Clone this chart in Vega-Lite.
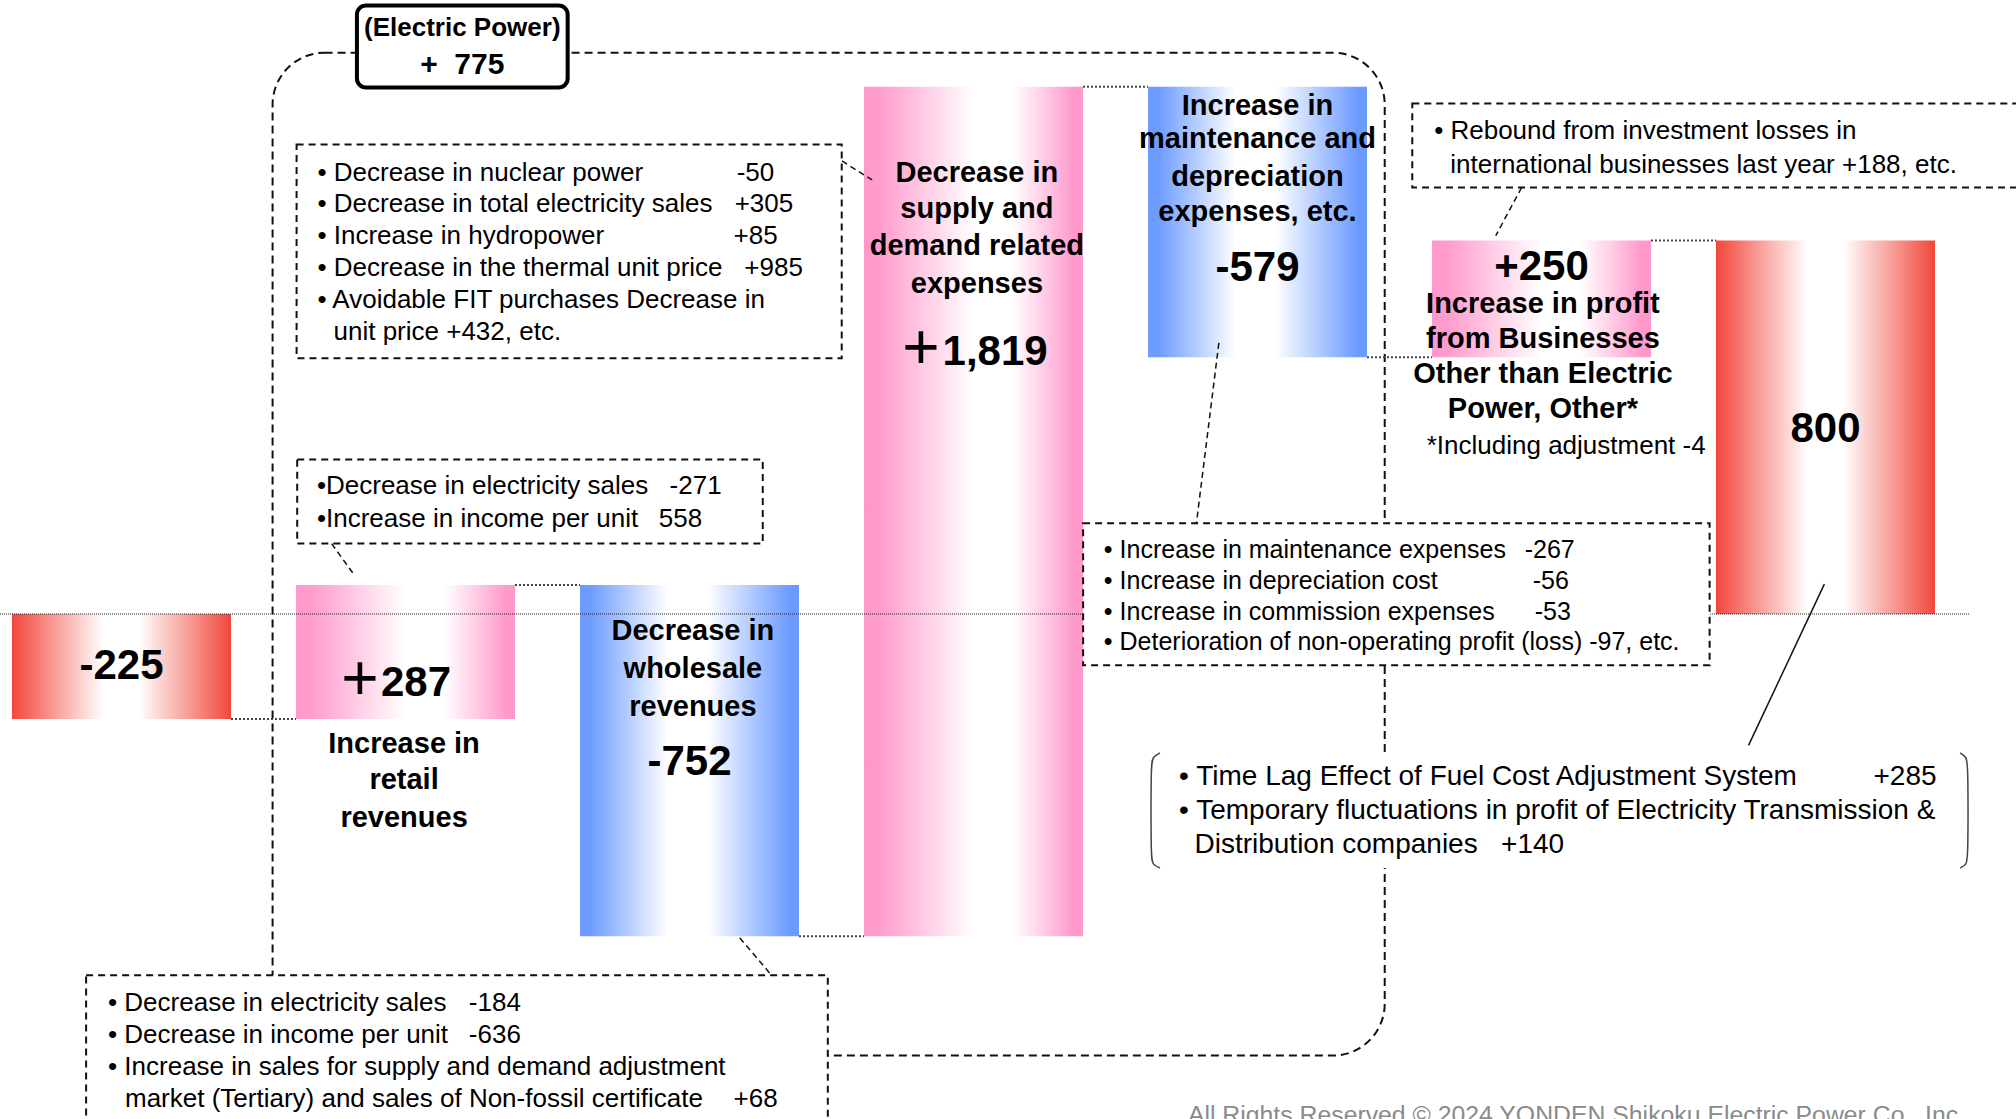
{
  "$schema": "https://vega.github.io/schema/vega-lite/v6.json",
  "width": 2016,
  "height": 1119,
  "autosize": {"type": "none"},
  "padding": 0,
  "background": "white",
  "config": {"view": {"stroke": null}, "font": "Liberation Sans", "scale": {"continuousPadding": 0}},
  "datasets": {
    "bars": [
      {"i": 0, "name": "Previous year", "start": 0, "end": -225, "kind": "red"},
      {"i": 1, "name": "Retail revenues", "start": -225, "end": 62, "kind": "pink"},
      {"i": 2, "name": "Wholesale revenues", "start": 62, "end": -690, "kind": "blue"},
      {"i": 3, "name": "Supply and demand related expenses", "start": -690, "end": 1129, "kind": "pink"},
      {"i": 4, "name": "Maintenance and depreciation", "start": 1129, "end": 550, "kind": "blue"},
      {"i": 5, "name": "Other businesses", "start": 550, "end": 800, "kind": "pink"},
      {"i": 6, "name": "Current year", "start": 0, "end": 800, "kind": "red"}
    ],
    "steps": [
      {"x": 0, "x2": 1, "level": -225},
      {"x": 1, "x2": 2, "level": 62},
      {"x": 2, "x2": 3, "level": -690},
      {"x": 3, "x2": 4, "level": 1129},
      {"x": 4, "x2": 5, "level": 550},
      {"x": 5, "x2": 6, "level": 800}
    ],
    "zero": [{"x": -0.4278, "x2": 6.509, "y": 0}],
    "frame": [{"x": 0.532, "x2": 4.448, "y": 1202.0, "y2": -945.6}],
    "boxes": [
      {"box": "fuel", "x": 0.6165, "x2": 2.536, "y": 1005.2, "y2": 547.8},
      {"box": "retail", "x": 0.6187, "x2": 2.258, "y": 330.7, "y2": 150.8},
      {"box": "wholesale", "x": -0.1246, "x2": 2.487, "y": -773.8, "y2": -1250},
      {"box": "maintenance", "x": 3.386, "x2": 5.592, "y": 194.5, "y2": -109.6},
      {"box": "rebound", "x": 4.545, "x2": 7.3, "y": 1093.0, "y2": 913.3}
    ],
    "bracketbg": [{"x": 3.625, "x2": 6.502, "y": -297.6, "y2": -543.8}],
    "epbox": [{"x": 0.829, "x2": 1.571, "y": 1303.2, "y2": 1127.4}],
    "dashlinks": [
      {"id": "c1", "o": 0, "x": 2.537, "y": 970.1}, {"id": "c1", "o": 1, "x": 2.643, "y": 929.4},
      {"id": "c2", "o": 0, "x": 0.740, "y": 150.8}, {"id": "c2", "o": 1, "x": 0.822, "y": 81.4},
      {"id": "c3", "o": 0, "x": 2.177, "y": -693.5}, {"id": "c3", "o": 1, "x": 2.289, "y": -773.8},
      {"id": "c4", "o": 0, "x": 3.864, "y": 580.6}, {"id": "c4", "o": 1, "x": 3.785, "y": 194.5},
      {"id": "c5", "o": 0, "x": 4.930, "y": 913.3}, {"id": "c5", "o": 1, "x": 4.839, "y": 810.1}
    ],
    "solidlinks": [
      {"id": "s1", "o": 0, "x": 5.729, "y": -281.3}, {"id": "s1", "o": 1, "x": 5.996, "y": 63.9}
    ],
    "brackets": [
      {"id": "L", "o": 0, "x": 3.6567, "y": -297.6}, {"id": "L", "o": 1, "x": 3.630, "y": -306.0},
      {"id": "L", "o": 2, "x": 3.625, "y": -325.4}, {"id": "L", "o": 3, "x": 3.625, "y": -518.2},
      {"id": "L", "o": 4, "x": 3.630, "y": -537.0}, {"id": "L", "o": 5, "x": 3.6567, "y": -543.8},
      {"id": "R", "o": 0, "x": 6.474, "y": -297.6}, {"id": "R", "o": 1, "x": 6.497, "y": -306.0},
      {"id": "R", "o": 2, "x": 6.502, "y": -325.4}, {"id": "R", "o": 3, "x": 6.502, "y": -518.2},
      {"id": "R", "o": 4, "x": 6.497, "y": -537.0}, {"id": "R", "o": 5, "x": 6.474, "y": -543.8}
    ],
    "notes26": [
      {"x": 0.690, "y": 945.4, "t": "• Decrease in nuclear power"}, {"x": 2.166, "y": 945.4, "t": "-50"},
      {"x": 0.690, "y": 877.3, "t": "• Decrease in total electricity sales"}, {"x": 2.159, "y": 877.3, "t": "+305"},
      {"x": 0.690, "y": 808.6, "t": "• Increase in hydropower"}, {"x": 2.155, "y": 808.6, "t": "+85"},
      {"x": 0.690, "y": 741.1, "t": "• Decrease in the thermal unit price"}, {"x": 2.193, "y": 741.1, "t": "+985"},
      {"x": 0.690, "y": 672.4, "t": "• Avoidable FIT purchases Decrease in"},
      {"x": 0.7465, "y": 603.7, "t": "unit price +432, etc."},
      {"x": 0.688, "y": 273.3, "t": "•Decrease in electricity sales"}, {"x": 1.930, "y": 273.3, "t": "-271"},
      {"x": 0.688, "y": 204.3, "t": "•Increase in income per unit"}, {"x": 1.892, "y": 204.3, "t": "558"},
      {"x": -0.0475, "y": -832.7, "t": "• Decrease in electricity sales"}, {"x": 1.223, "y": -832.7, "t": "-184"},
      {"x": -0.0475, "y": -901.4, "t": "• Decrease in income per unit"}, {"x": 1.223, "y": -901.4, "t": "-636"},
      {"x": -0.0475, "y": -970.1, "t": "• Increase in sales for supply and demand adjustment"},
      {"x": 0.0123, "y": -1039.1, "t": "market (Tertiary) and sales of Non-fossil certificate"}, {"x": 2.155, "y": -1039.1, "t": "+68"},
      {"x": 4.622, "y": 1033.4, "t": "• Rebound from investment losses in"},
      {"x": 4.679, "y": 961.5, "t": "international businesses last year +188, etc."}
    ],
    "notes25": [
      {"x": 3.459, "y": 136.0, "t": "• Increase in maintenance expenses"}, {"x": 4.941, "y": 136.0, "t": "-267"},
      {"x": 3.459, "y": 69.8, "t": "• Increase in depreciation cost"}, {"x": 4.969, "y": 69.8, "t": "-56"},
      {"x": 3.459, "y": 5.0, "t": "• Increase in commission expenses"}, {"x": 4.976, "y": 5.0, "t": "-53"},
      {"x": 3.459, "y": -59.9, "t": "• Deterioration of non-operating profit (loss) -97, etc."}
    ],
    "notes28": [
      {"x": 3.724, "y": -350.1, "t": "• Time Lag Effect of Fuel Cost Adjustment System"}, {"x": 6.169, "y": -350.1, "t": "+285"},
      {"x": 3.724, "y": -422.4, "t": "• Temporary fluctuations in profit of Electricity Transmission &"},
      {"x": 3.778, "y": -495.0, "t": "Distribution companies\u00a0\u00a0\u00a0+140"}
    ],
    "centernotes": [
      {"x": 5.087, "y": 360.4, "t": "*Including adjustment -4"}
    ],
    "catlabels": [
      {"x": 0.995, "y": -278.1, "t": "Increase in"}, {"x": 0.995, "y": -356.3, "t": "retail"}, {"x": 0.995, "y": -436.6, "t": "revenues"},
      {"x": 2.012, "y": -37.2, "t": "Decrease in"}, {"x": 2.012, "y": -117.5, "t": "wholesale"}, {"x": 2.012, "y": -199.3, "t": "revenues"},
      {"x": 3.012, "y": 945.4, "t": "Decrease in"}, {"x": 3.012, "y": 867.5, "t": "supply and"}, {"x": 3.012, "y": 787.2, "t": "demand related"}, {"x": 3.012, "y": 706.9, "t": "expenses"},
      {"x": 4.0, "y": 1087.6, "t": "Increase in"}, {"x": 4.0, "y": 1016.5, "t": "maintenance and"}, {"x": 4.0, "y": 936.2, "t": "depreciation"}, {"x": 4.0, "y": 861.3, "t": "expenses, etc."},
      {"x": 5.005, "y": 663.2, "t": "Increase in profit"}, {"x": 5.005, "y": 589.7, "t": "from Businesses"}, {"x": 5.005, "y": 513.3, "t": "Other than Electric"}, {"x": 5.005, "y": 439.2, "t": "Power, Other*"}
    ],
    "values": [
      {"x": 0.0, "y": -110.9, "t": "-225"},
      {"x": 1.037, "y": -147.5, "t": "287"},
      {"x": 2.0, "y": -316.4, "t": "-752"},
      {"x": 3.076, "y": 561.5, "t": "1,819"},
      {"x": 4.0, "y": 741.2, "t": "-579"},
      {"x": 5.0, "y": 743.7, "t": "+250"},
      {"x": 6.0, "y": 397.1, "t": "800"}
    ],
    "pluses": [
      {"x": 0.840, "y": -147.5, "t": "+"},
      {"x": 2.815, "y": 561.5, "t": "+"}
    ],
    "eptitle": [
      {"x": 1.2, "y": 1255.1, "t": "(Electric Power)"}
    ],
    "epvalue": [
      {"x": 1.2, "y": 1175.6, "t": "+\u00a0\u00a0775"}
    ],
    "footer": [
      {"x": 3.755, "y": -1089, "t": "All Rights Reserved © 2024 YONDEN Shikoku Electric Power Co., Inc."}
    ]
  },
  "layer": [
    {
      "data": {"name": "frame"},
      "mark": {"type": "rect", "fill": "white", "fillOpacity": 0, "stroke": "#111", "strokeWidth": 2, "strokeDash": [8, 5], "cornerRadius": 52},
      "encoding": {
        "x": {"field": "x", "type": "quantitative", "scale": {"domain": [-0.4278, 6.6708], "nice": false, "zero": false, "padding": 0}, "axis": null},
        "x2": {"field": "x2"},
        "y": {"field": "y", "type": "quantitative", "scale": {"domain": [-1081.4, 1314.8], "nice": false, "zero": false, "padding": 0}, "axis": null},
        "y2": {"field": "y2"}
      }
    },
    {
      "data": {"name": "steps"},
      "mark": {"type": "rule", "stroke": "#444", "strokeWidth": 2, "strokeDash": [2, 2], "xOffset": 109.5, "x2Offset": -109.5},
      "encoding": {
        "x": {"field": "x", "type": "quantitative", "scale": {"domain": [-0.4278, 6.6708], "nice": false, "zero": false, "padding": 0}, "axis": null},
        "x2": {"field": "x2"},
        "y": {"field": "level", "type": "quantitative", "scale": {"domain": [-1081.4, 1314.8], "nice": false, "zero": false, "padding": 0}, "axis": null}
      }
    },
    {
      "data": {"name": "bars"},
      "transform": [{"filter": "datum.kind === 'red'"}],
      "mark": {"type": "bar", "width": 219, "fill": {"gradient": "linear", "x1": 0, "x2": 1, "y1": 0, "y2": 0, "stops": [{"offset": 0, "color": "#f2473c"}, {"offset": 0.42, "color": "#ffffff"}, {"offset": 0.58, "color": "#ffffff"}, {"offset": 1, "color": "#f2473c"}]}},
      "encoding": {
        "x": {"field": "i", "type": "quantitative", "scale": {"domain": [-0.4278, 6.6708], "nice": false, "zero": false, "padding": 0}, "axis": null},
        "y": {"field": "start", "type": "quantitative", "scale": {"domain": [-1081.4, 1314.8], "nice": false, "zero": false, "padding": 0}, "axis": null},
        "y2": {"field": "end"}
      }
    },
    {
      "data": {"name": "bars"},
      "transform": [{"filter": "datum.kind === 'pink'"}],
      "mark": {"type": "bar", "width": 219, "fill": {"gradient": "linear", "x1": 0, "x2": 1, "y1": 0, "y2": 0, "stops": [{"offset": 0, "color": "#ff99cc"}, {"offset": 0.07, "color": "#ff9ccd"}, {"offset": 0.5, "color": "#ffffff"}, {"offset": 0.68, "color": "#ffffff"}, {"offset": 0.96, "color": "#ff99cc"}, {"offset": 1, "color": "#ff99cc"}]}},
      "encoding": {
        "x": {"field": "i", "type": "quantitative", "scale": {"domain": [-0.4278, 6.6708], "nice": false, "zero": false, "padding": 0}, "axis": null},
        "y": {"field": "start", "type": "quantitative", "scale": {"domain": [-1081.4, 1314.8], "nice": false, "zero": false, "padding": 0}, "axis": null},
        "y2": {"field": "end"}
      }
    },
    {
      "data": {"name": "bars"},
      "transform": [{"filter": "datum.kind === 'blue'"}],
      "mark": {"type": "bar", "width": 219, "fill": {"gradient": "linear", "x1": 0, "x2": 1, "y1": 0, "y2": 0, "stops": [{"offset": 0, "color": "#6b9bff"}, {"offset": 0.05, "color": "#6e9dff"}, {"offset": 0.4, "color": "#ffffff"}, {"offset": 0.58, "color": "#ffffff"}, {"offset": 0.96, "color": "#6b9bff"}, {"offset": 1, "color": "#6b9bff"}]}},
      "encoding": {
        "x": {"field": "i", "type": "quantitative", "scale": {"domain": [-0.4278, 6.6708], "nice": false, "zero": false, "padding": 0}, "axis": null},
        "y": {"field": "start", "type": "quantitative", "scale": {"domain": [-1081.4, 1314.8], "nice": false, "zero": false, "padding": 0}, "axis": null},
        "y2": {"field": "end"}
      }
    },
    {
      "data": {"name": "zero"},
      "mark": {"type": "rule", "stroke": "#222", "strokeWidth": 1, "strokeDash": [1, 1]},
      "encoding": {
        "x": {"field": "x", "type": "quantitative", "scale": {"domain": [-0.4278, 6.6708], "nice": false, "zero": false, "padding": 0}, "axis": null},
        "x2": {"field": "x2"},
        "y": {"field": "y", "type": "quantitative", "scale": {"domain": [-1081.4, 1314.8], "nice": false, "zero": false, "padding": 0}, "axis": null}
      }
    },
    {
      "data": {"name": "boxes"},
      "mark": {"type": "rect", "fill": "white", "stroke": "#111", "strokeWidth": 2, "strokeDash": [7, 5], "clip": true},
      "encoding": {
        "x": {"field": "x", "type": "quantitative", "scale": {"domain": [-0.4278, 6.6708], "nice": false, "zero": false, "padding": 0}, "axis": null},
        "x2": {"field": "x2"},
        "y": {"field": "y", "type": "quantitative", "scale": {"domain": [-1081.4, 1314.8], "nice": false, "zero": false, "padding": 0}, "axis": null},
        "y2": {"field": "y2"}
      }
    },
    {
      "data": {"name": "bracketbg"},
      "mark": {"type": "rect", "fill": "white"},
      "encoding": {
        "x": {"field": "x", "type": "quantitative", "scale": {"domain": [-0.4278, 6.6708], "nice": false, "zero": false, "padding": 0}, "axis": null},
        "x2": {"field": "x2"},
        "y": {"field": "y", "type": "quantitative", "scale": {"domain": [-1081.4, 1314.8], "nice": false, "zero": false, "padding": 0}, "axis": null},
        "y2": {"field": "y2"}
      }
    },
    {
      "data": {"name": "dashlinks"},
      "mark": {"type": "line", "stroke": "#111", "strokeWidth": 1.5, "strokeDash": [6, 4]},
      "encoding": {
        "x": {"field": "x", "type": "quantitative", "scale": {"domain": [-0.4278, 6.6708], "nice": false, "zero": false, "padding": 0}, "axis": null},
        "y": {"field": "y", "type": "quantitative", "scale": {"domain": [-1081.4, 1314.8], "nice": false, "zero": false, "padding": 0}, "axis": null},
        "detail": {"field": "id"},
        "order": {"field": "o"}
      }
    },
    {
      "data": {"name": "solidlinks"},
      "mark": {"type": "line", "stroke": "#111", "strokeWidth": 1.5},
      "encoding": {
        "x": {"field": "x", "type": "quantitative", "scale": {"domain": [-0.4278, 6.6708], "nice": false, "zero": false, "padding": 0}, "axis": null},
        "y": {"field": "y", "type": "quantitative", "scale": {"domain": [-1081.4, 1314.8], "nice": false, "zero": false, "padding": 0}, "axis": null},
        "detail": {"field": "id"},
        "order": {"field": "o"}
      }
    },
    {
      "data": {"name": "brackets"},
      "mark": {"type": "line", "stroke": "#444", "strokeWidth": 1.5, "interpolate": "basis"},
      "encoding": {
        "x": {"field": "x", "type": "quantitative", "scale": {"domain": [-0.4278, 6.6708], "nice": false, "zero": false, "padding": 0}, "axis": null},
        "y": {"field": "y", "type": "quantitative", "scale": {"domain": [-1081.4, 1314.8], "nice": false, "zero": false, "padding": 0}, "axis": null},
        "detail": {"field": "id"},
        "order": {"field": "o"}
      }
    },
    {
      "data": {"name": "epbox"},
      "mark": {"type": "rect", "fill": "white", "stroke": "#000", "strokeWidth": 4, "cornerRadius": 9},
      "encoding": {
        "x": {"field": "x", "type": "quantitative", "scale": {"domain": [-0.4278, 6.6708], "nice": false, "zero": false, "padding": 0}, "axis": null},
        "x2": {"field": "x2"},
        "y": {"field": "y", "type": "quantitative", "scale": {"domain": [-1081.4, 1314.8], "nice": false, "zero": false, "padding": 0}, "axis": null},
        "y2": {"field": "y2"}
      }
    },
    {
      "data": {"name": "notes26"},
      "mark": {"type": "text", "align": "left", "baseline": "middle", "fontSize": 26, "font": "Liberation Sans", "color": "#000"},
      "encoding": {
        "x": {"field": "x", "type": "quantitative", "scale": {"domain": [-0.4278, 6.6708], "nice": false, "zero": false, "padding": 0}, "axis": null},
        "y": {"field": "y", "type": "quantitative", "scale": {"domain": [-1081.4, 1314.8], "nice": false, "zero": false, "padding": 0}, "axis": null},
        "text": {"field": "t"}
      }
    },
    {
      "data": {"name": "notes25"},
      "mark": {"type": "text", "align": "left", "baseline": "middle", "fontSize": 25, "font": "Liberation Sans", "color": "#000"},
      "encoding": {
        "x": {"field": "x", "type": "quantitative", "scale": {"domain": [-0.4278, 6.6708], "nice": false, "zero": false, "padding": 0}, "axis": null},
        "y": {"field": "y", "type": "quantitative", "scale": {"domain": [-1081.4, 1314.8], "nice": false, "zero": false, "padding": 0}, "axis": null},
        "text": {"field": "t"}
      }
    },
    {
      "data": {"name": "notes28"},
      "mark": {"type": "text", "align": "left", "baseline": "middle", "fontSize": 28, "font": "Liberation Sans", "color": "#000"},
      "encoding": {
        "x": {"field": "x", "type": "quantitative", "scale": {"domain": [-0.4278, 6.6708], "nice": false, "zero": false, "padding": 0}, "axis": null},
        "y": {"field": "y", "type": "quantitative", "scale": {"domain": [-1081.4, 1314.8], "nice": false, "zero": false, "padding": 0}, "axis": null},
        "text": {"field": "t"}
      }
    },
    {
      "data": {"name": "centernotes"},
      "mark": {"type": "text", "align": "center", "baseline": "middle", "fontSize": 26, "font": "Liberation Sans", "color": "#000"},
      "encoding": {
        "x": {"field": "x", "type": "quantitative", "scale": {"domain": [-0.4278, 6.6708], "nice": false, "zero": false, "padding": 0}, "axis": null},
        "y": {"field": "y", "type": "quantitative", "scale": {"domain": [-1081.4, 1314.8], "nice": false, "zero": false, "padding": 0}, "axis": null},
        "text": {"field": "t"}
      }
    },
    {
      "data": {"name": "catlabels"},
      "mark": {"type": "text", "align": "center", "baseline": "middle", "fontSize": 29, "fontWeight": "bold", "font": "Liberation Sans", "color": "#000"},
      "encoding": {
        "x": {"field": "x", "type": "quantitative", "scale": {"domain": [-0.4278, 6.6708], "nice": false, "zero": false, "padding": 0}, "axis": null},
        "y": {"field": "y", "type": "quantitative", "scale": {"domain": [-1081.4, 1314.8], "nice": false, "zero": false, "padding": 0}, "axis": null},
        "text": {"field": "t"}
      }
    },
    {
      "data": {"name": "values"},
      "mark": {"type": "text", "align": "center", "baseline": "middle", "fontSize": 42, "fontWeight": "bold", "font": "Liberation Sans", "color": "#000"},
      "encoding": {
        "x": {"field": "x", "type": "quantitative", "scale": {"domain": [-0.4278, 6.6708], "nice": false, "zero": false, "padding": 0}, "axis": null},
        "y": {"field": "y", "type": "quantitative", "scale": {"domain": [-1081.4, 1314.8], "nice": false, "zero": false, "padding": 0}, "axis": null},
        "text": {"field": "t"}
      }
    },
    {
      "data": {"name": "pluses"},
      "mark": {"type": "text", "align": "center", "baseline": "middle", "fontSize": 64, "fontWeight": "normal", "font": "Liberation Sans", "color": "#000", "dy": -2},
      "encoding": {
        "x": {"field": "x", "type": "quantitative", "scale": {"domain": [-0.4278, 6.6708], "nice": false, "zero": false, "padding": 0}, "axis": null},
        "y": {"field": "y", "type": "quantitative", "scale": {"domain": [-1081.4, 1314.8], "nice": false, "zero": false, "padding": 0}, "axis": null},
        "text": {"field": "t"}
      }
    },
    {
      "data": {"name": "eptitle"},
      "mark": {"type": "text", "align": "center", "baseline": "middle", "fontSize": 26, "fontWeight": "bold", "font": "Liberation Sans", "color": "#000"},
      "encoding": {
        "x": {"field": "x", "type": "quantitative", "scale": {"domain": [-0.4278, 6.6708], "nice": false, "zero": false, "padding": 0}, "axis": null},
        "y": {"field": "y", "type": "quantitative", "scale": {"domain": [-1081.4, 1314.8], "nice": false, "zero": false, "padding": 0}, "axis": null},
        "text": {"field": "t"}
      }
    },
    {
      "data": {"name": "epvalue"},
      "mark": {"type": "text", "align": "center", "baseline": "middle", "fontSize": 30, "fontWeight": "bold", "font": "Liberation Sans", "color": "#000"},
      "encoding": {
        "x": {"field": "x", "type": "quantitative", "scale": {"domain": [-0.4278, 6.6708], "nice": false, "zero": false, "padding": 0}, "axis": null},
        "y": {"field": "y", "type": "quantitative", "scale": {"domain": [-1081.4, 1314.8], "nice": false, "zero": false, "padding": 0}, "axis": null},
        "text": {"field": "t"}
      }
    },
    {
      "data": {"name": "footer"},
      "mark": {"type": "text", "align": "left", "baseline": "alphabetic", "fontSize": 24.8, "font": "Liberation Sans", "color": "#8a8a8a"},
      "encoding": {
        "x": {"field": "x", "type": "quantitative", "scale": {"domain": [-0.4278, 6.6708], "nice": false, "zero": false, "padding": 0}, "axis": null},
        "y": {"field": "y", "type": "quantitative", "scale": {"domain": [-1081.4, 1314.8], "nice": false, "zero": false, "padding": 0}, "axis": null},
        "text": {"field": "t"}
      }
    }
  ]
}
